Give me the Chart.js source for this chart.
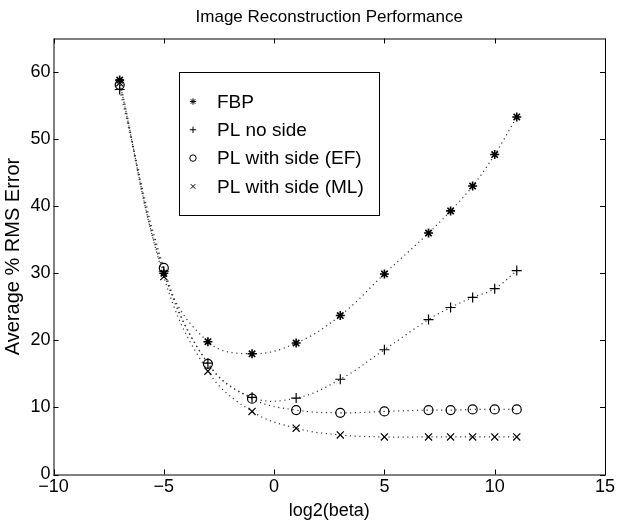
<!DOCTYPE html>
<html>
<head>
<meta charset="utf-8">
<script src="https://cdn.jsdelivr.net/npm/chart.js@4/dist/chart.umd.min.js"></script>
<style>
html, body { margin: 0; padding: 0; background: #fff; }
#wrap { width: 619px; height: 523px; }
</style>
</head>
<body>
<div id="wrap"><canvas id="perf" width="619" height="523"></canvas></div>
<script>
var LOG2_BETA = [-7, -5, -3, -1, 1, 3, 5, 7, 8, 9, 10, 11];
var FBP = [58.8, 30.0, 19.8, 18.0, 19.6, 23.7, 29.9, 36.0, 39.3, 43.0, 47.7, 53.3];
var PL_NO_SIDE = [57.4, 30.3, 16.6, 11.5, 11.4, 14.2, 18.6, 23.1, 24.9, 26.4, 27.7, 30.4];
var PL_SIDE_EF = [58.1, 30.8, 16.5, 11.3, 9.6, 9.2, 9.4, 9.6, 9.6, 9.7, 9.7, 9.7];
var PL_SIDE_ML = [58.4, 29.5, 15.4, 9.4, 6.9, 5.9, 5.6, 5.6, 5.6, 5.6, 5.6, 5.6];
var SERIES_NAMES = ["FBP", "PL no side", "PL with side (EF)", "PL with side (ML)"];
var X_TICKS = [-10, -5, 0, 5, 10, 15];
var Y_TICKS = [0, 10, 20, 30, 40, 50, 60];
var TITLE = "Image Reconstruction Performance";

var FONT = "'Liberation Sans', Arial, Helvetica, sans-serif";

function toPoints(ys) {
    return LOG2_BETA.map(function (x, i) {
        return { x: x, y: ys[i] };
    });
}

function makeSeries(label, ys, style, radius, width) {
    return {
        label: label,
        data: toPoints(ys),
        borderColor: "#333",
        borderWidth: 1.2,
        borderDash: [1.2, 3.6],
        tension: 0.4,
        pointStyle: style,
        pointRadius: radius,
        pointBorderWidth: width,
        pointBorderColor: "#000",
        pointBackgroundColor: "rgba(0,0,0,0)",
        fill: false,
    };
}

// title centred over the axes, like matlab does
const axesTitle = {
    id: "axesTitle",
    afterDraw(chart) {
        const ctx = chart.ctx;
        const a = chart.chartArea;
        ctx.save();
        ctx.fillStyle = "#000";
        ctx.font = "17px " + FONT;
        ctx.textAlign = "center";
        ctx.textBaseline = "middle";
        ctx.fillText(TITLE, (a.left + a.right) / 2, 17);
        ctx.restore();
    },
};

// frame with inward ticks
const frameTicks = {
    id: "frameTicks",
    afterDraw(chart) {
        const ctx = chart.ctx;
        const a = chart.chartArea;
        const xs = chart.scales.x;
        const ys = chart.scales.y;
        const len = 5;
        ctx.save();
        ctx.strokeStyle = "#000";
        ctx.lineWidth = 1;
        ctx.strokeRect(a.left + 0.5, a.top + 0.5, a.right - a.left, a.bottom - a.top);
        ctx.beginPath();
        X_TICKS.forEach(function (v) {
            const px = Math.round(xs.getPixelForValue(v)) + 0.5;
            ctx.moveTo(px, a.bottom);
            ctx.lineTo(px, a.bottom - len);
            ctx.moveTo(px, a.top);
            ctx.lineTo(px, a.top + len);
        });
        Y_TICKS.forEach(function (v) {
            const py = Math.round(ys.getPixelForValue(v)) + 0.5;
            ctx.moveTo(a.left, py);
            ctx.lineTo(a.left + len, py);
            ctx.moveTo(a.right, py);
            ctx.lineTo(a.right - len, py);
        });
        ctx.stroke();
        ctx.restore();
    },
};

// boxed legend inside the plot
const legendBox = {
    id: "legendBox",
    afterDraw(chart) {
        const ctx = chart.ctx;
        const a = chart.chartArea;
        const left = a.left + 125;
        const top = a.top + 33;
        const w = 200;
        const h = 143;
        ctx.save();
        ctx.fillStyle = "#fff";
        ctx.fillRect(left, top, w, h);
        ctx.strokeStyle = "#000";
        ctx.lineWidth = 1;
        ctx.strokeRect(Math.round(left) + 0.5, Math.round(top) + 0.5, w, h);
        ctx.font = "19px " + FONT;
        ctx.textBaseline = "middle";
        chart.data.datasets.forEach(function (ds, i) {
            const y = top + 30 + i * 28.3;
            ctx.strokeStyle = "#000";
            ctx.fillStyle = "rgba(0,0,0,0)";
            ctx.lineWidth = 1;
            Chart.helpers.drawPoint(ctx, { pointStyle: ds.pointStyle, radius: 3.2, borderWidth: 1, rotation: 0 }, left + 14.5, y);
            ctx.fillStyle = "#000";
            ctx.fillText(ds.label, left + 38.5, y + 1);
        });
        ctx.restore();
    },
};

const data = {
    datasets: [
        makeSeries(SERIES_NAMES[0], FBP, "star", 4.5, 1.6),
        makeSeries(SERIES_NAMES[1], PL_NO_SIDE, "cross", 5, 1.2),
        makeSeries(SERIES_NAMES[2], PL_SIDE_EF, "circle", 4.5, 1.2),
        makeSeries(SERIES_NAMES[3], PL_SIDE_ML, "crossRot", 5, 1.2),
    ],
};

const config = {
    type: "line",
    data: data,
    options: {
        animation: false,
        responsive: false,
        layout: {
            padding: { left: 0, right: 14, top: 38.5, bottom: 0 },
        },
        plugins: {
            legend: { display: false },
            tooltip: { enabled: false },
            title: { display: false },
        },
        scales: {
            x: {
                type: "linear",
                min: -10,
                max: 15,
                afterBuildTicks: function (scale) {
                    scale.ticks = X_TICKS.map(function (v) { return { value: v }; });
                },
                afterFit: function (scale) {
                    scale.height = 48.5;
                },
                grid: { display: false, drawTicks: false },
                border: { display: false },
                ticks: {
                    color: "#000",
                    padding: 2,
                    maxRotation: 0,
                    font: { family: FONT, size: 18 },
                    callback: function (v) {
                        return v < 0 ? "\u2212" + Math.abs(v) : String(v);
                    },
                },
                title: {
                    display: true,
                    text: "log2(beta)",
                    color: "#000",
                    font: { family: FONT, size: 18 },
                    padding: { top: 0, bottom: 1 },
                },
            },
            y: {
                min: 0,
                max: 65,
                afterBuildTicks: function (scale) {
                    scale.ticks = Y_TICKS.map(function (v) { return { value: v }; });
                },
                afterFit: function (scale) {
                    scale.width = 53.5;
                },
                grid: { display: false, drawTicks: false },
                border: { display: false },
                ticks: {
                    color: "#000",
                    padding: 3,
                    font: { family: FONT, size: 18 },
                },
                title: {
                    display: true,
                    text: "Average % RMS Error",
                    color: "#000",
                    font: { family: FONT, size: 20 },
                    padding: { top: 1, bottom: 0 },
                },
            },
        },
    },
    plugins: [axesTitle, frameTicks, legendBox],
};

function drawCanvas() {
    const ctx = document.getElementById("perf");
    new Chart(ctx, config);
}

drawCanvas();
</script>
</body>
</html>
